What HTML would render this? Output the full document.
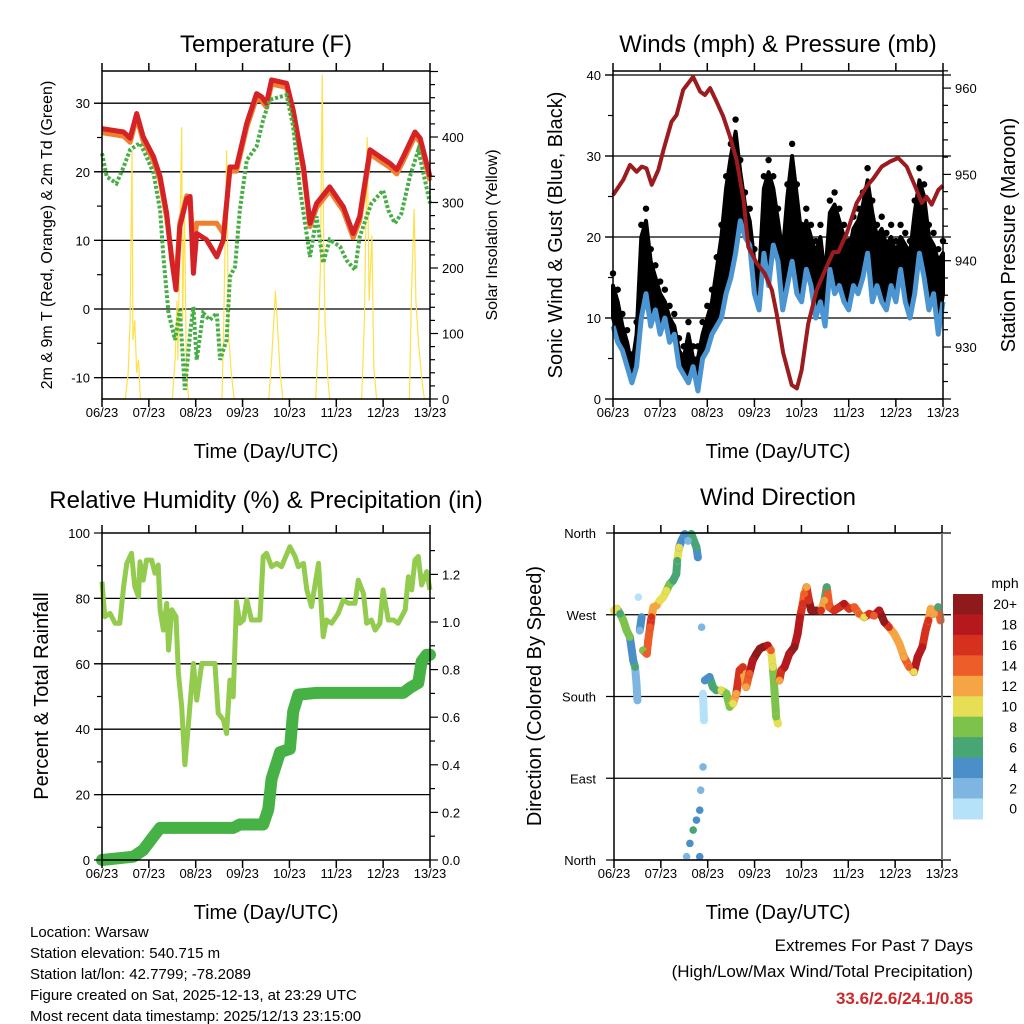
<!DOCTYPE html>
<html><head><meta charset="utf-8">
<style>
html,body{margin:0;padding:0;background:#fff;}
svg{display:block;font-family:"Liberation Sans",Arial,sans-serif;}
</style></head>
<body>
<svg id="s" width="1024" height="1024" viewBox="0 0 1024 1024" xmlns="http://www.w3.org/2000/svg">
<rect width="1024" height="1024" fill="#fff"/>
<g id="g-tl"></g>
<g id="g-tr"></g>
<g id="g-bl"></g>
<g id="g-br"></g>
<text x="266" y="52" font-size="24" text-anchor="middle">Temperature (F)</text>
<text x="778" y="52" font-size="24" text-anchor="middle">Winds (mph) &amp; Pressure (mb)</text>
<text x="266" y="508" font-size="24" text-anchor="middle">Relative Humidity (%) &amp; Precipitation (in)</text>
<text x="778" y="505" font-size="24" text-anchor="middle">Wind Direction</text>
<text x="266" y="458" font-size="20" text-anchor="middle">Time (Day/UTC)</text>
<text x="778" y="458" font-size="20" text-anchor="middle">Time (Day/UTC)</text>
<text x="266" y="919" font-size="20" text-anchor="middle">Time (Day/UTC)</text>
<text x="778" y="919" font-size="20" text-anchor="middle">Time (Day/UTC)</text>
<text transform="translate(52,235) rotate(-90)" font-size="16" text-anchor="middle">2m &amp; 9m T (Red, Orange) &amp; 2m Td (Green)</text>
<text transform="translate(497,235) rotate(-90)" font-size="16" text-anchor="middle">Solar Insolation (Yellow)</text>
<text transform="translate(562,235) rotate(-90)" font-size="20" text-anchor="middle">Sonic Wind &amp; Gust (Blue, Black)</text>
<text transform="translate(1015,235) rotate(-90)" font-size="20" text-anchor="middle">Station Pressure (Maroon)</text>
<text transform="translate(48,696) rotate(-90)" font-size="20" text-anchor="middle">Percent &amp; Total Rainfall</text>
<text transform="translate(541,696) rotate(-90)" font-size="20" text-anchor="middle">Direction (Colored By Speed)</text>
<g font-size="15">
<text x="30" y="937">Location: Warsaw</text>
<text x="30" y="958">Station elevation: 540.715 m</text>
<text x="30" y="979">Station lat/lon: 42.7799; -78.2089</text>
<text x="30" y="1000">Figure created on Sat, 2025-12-13, at 23:29 UTC</text>
<text x="30" y="1021">Most recent data timestamp: 2025/12/13 23:15:00</text>
</g>
<g font-size="17" text-anchor="end">
<text x="973" y="951">Extremes For Past 7 Days</text>
<text x="973" y="977">(High/Low/Max Wind/Total Precipitation)</text>
<text x="973" y="1004" fill="#cc2a2a" font-weight="bold">33.6/2.6/24.1/0.85</text>
</g>
</svg>
<script>
var NS="http://www.w3.org/2000/svg";
var days=["06/23","07/23","08/23","09/23","10/23","11/23","12/23","13/23"];
// Temperature
var redT=[0,.46,.6,.74,.88,1.1,1.24,1.38,1.49,1.58,1.66,1.81,1.88,1.95,2.02,2.23,2.45,2.59,2.73,2.87,3.09,3.3,3.41,3.51,3.62,3.94,4.08,4.3,4.44,4.58,4.86,5.15,5.36,5.5,5.72,5.93,6.15,6.29,6.43,6.68,6.79,7];
var redV=[26.3,25.8,24.9,28.5,25.1,22.2,19.3,13.9,7.1,2.8,12.0,16.1,16.4,5.2,11.0,10.1,7.6,10.1,20.7,20.7,27.1,31.4,30.9,30.0,33.4,32.9,29.0,20.7,12.5,15.4,17.8,14.9,11.0,13.5,23.2,22.2,21.2,20.3,22.2,25.8,24.9,19.3];
var orangeV=[25.7,25.2,24.3,27.9,24.5,21.6,18.7,13.3,7.5,4.0,12.5,16.5,16.0,9.0,12.5,12.5,12.5,11.0,20.1,20.1,26.5,30.8,30.3,29.4,32.8,32.3,28.4,20.1,12.0,14.8,17.2,14.3,10.4,12.9,22.6,21.6,20.6,19.7,21.6,25.2,24.3,18.7];
var dewT=[0,.1,.31,.46,.6,.81,.95,1.1,1.24,1.31,1.42,1.56,1.66,1.77,1.88,1.95,2.02,2.16,2.3,2.45,2.52,2.66,2.73,2.84,2.94,3.09,3.3,3.44,3.58,3.94,4.08,4.22,4.44,4.58,4.72,4.86,5.08,5.22,5.4,5.5,5.65,5.75,6,6.11,6.25,6.39,6.57,6.75,6.86,7];
var dewV=[22.7,19.3,18.3,20.7,23.2,24.2,22.2,19.8,14.4,7.6,-0.6,-4.5,-0.1,-11.8,-3.5,0.3,-7.4,-0.6,-1.6,-0.6,-7.4,-4.5,4.7,6.2,14.4,21.7,23.7,27.6,30.5,31.2,26.6,17.8,7.6,13.5,6.7,10.1,9.1,7.1,5.7,10.5,13.5,15.4,17.3,14.4,12.5,13.9,19.3,23.2,19.8,15.4];
var solarT=[0,.5,.56,.6,.64,.66,.7,.74,.78,.82,1.5,1.56,1.6,1.62,1.7,1.72,1.76,1.8,1.85,2.56,2.6,2.66,2.7,2.76,2.82,3.56,3.62,3.7,3.74,3.8,3.86,4.56,4.62,4.66,4.7,4.73,4.76,4.82,4.86,5.54,5.6,5.66,5.7,5.76,5.8,5.86,6.56,6.6,6.66,6.7,6.76,6.84,6.88,7];
var solarV=[0,0,40,120,380,90,120,40,60,0,0,60,150,60,415,120,300,40,0,0,120,380,100,40,0,0,60,165,120,40,0,0,100,200,495,250,120,30,0,0,120,400,150,250,50,0,0,150,290,150,80,20,0,0];
// Winds
var windV=[9,7,6,4,2,4,10,13,9,11,8,10,7,8,4,3,2,4,1,5,6,8,9,10,13,15,18,22,20,19,13,11,18,14,19,17,11,14,17,13,12,16,14,10,12,9,16,13,14,12,11,14,13,15,18,12,14,12,11,14,12,16,12,10,13,18,15,11,13,8,12];
var gustV=[14,12,9,7,4,8,20,22,17,15,13,12,10,9,6,5,8,5,5,8,10,12,16,20,26,30,33,28,24,22,17,15,26,28,26,22,18,25,30,25,20,22,20,18,20,15,23,24,22,20,18,21,22,24,27,23,20,21,19,20,18,20,19,18,23,27,25,20,19,17,18];
var presT=[0,.22,.36,.5,.61,.71,.82,.96,1.07,1.24,1.35,1.49,1.7,1.85,1.95,2.06,2.2,2.34,2.48,2.62,2.77,2.87,3.05,3.22,3.37,3.47,3.61,3.79,3.9,4,4.14,4.32,4.53,4.67,4.78,4.96,5.17,5.38,5.52,5.7,5.88,6.05,6.23,6.41,6.55,6.65,6.76,6.9,7];
var presV=[947.6,949.4,951.1,950.3,950.9,950.7,948.8,950.5,952.8,956.1,956.9,959.8,961.3,959.6,959.2,960.0,958.4,956.7,954.4,951.7,947.0,941.6,939.7,938.5,936.6,933.9,929.3,925.6,925.2,927.3,932.7,936.6,939.3,941.0,941.0,943.2,946.7,948.6,949.5,950.9,951.5,951.9,950.9,948.6,946.7,947.4,946.5,948.2,948.7];
// Humidity & rain
var rhT=[0,.06,.17,.28,.38,.46,.53,.63,.7,.78,.81,.88,.95,1.06,1.13,1.2,1.24,1.31,1.38,1.42,1.49,1.58,1.63,1.7,1.77,1.84,1.95,2.02,2.13,2.41,2.48,2.59,2.66,2.73,2.8,2.87,2.94,3.02,3.09,3.19,3.37,3.44,3.51,3.62,3.73,3.83,4.01,4.12,4.19,4.3,4.37,4.47,4.62,4.72,4.79,4.9,5.04,5.15,5.26,5.4,5.47,5.58,5.65,5.75,5.83,5.93,6,6.11,6.22,6.32,6.47,6.54,6.61,6.68,6.75,6.82,6.93,7];
var rhV=[85.1,74.4,75.4,72.4,72.4,83.6,90.7,93.8,83.6,80.5,91.2,85.6,91.7,91.7,87.7,90.2,76.5,70.3,78.5,64.2,76.5,74.4,57.1,46.9,29.1,40.8,60.1,48.9,60.1,60.1,44.9,42.8,38.7,55,49.9,79,72.4,73.4,79.5,73.4,73.4,92.8,93.8,89.7,90.7,89.7,95.8,92.8,89.7,90.7,82.6,77.5,90.7,68.3,73.4,72.4,75.4,79.5,78.5,78.5,85.6,81.5,72.4,73.4,70.3,72.4,82.6,73.4,73.4,72.4,76.5,86.6,82.6,91.7,92.8,84.1,88.2,82.6];
var rainT=[0,.67,.88,1.1,1.24,2.8,2.94,3.44,3.55,3.62,3.8,4.01,4.08,4.19,4.58,6.43,6.57,6.75,6.82,6.93,7];
var rainV=[0,.014,.042,.099,.135,.135,.149,.149,.213,.341,.453,.467,.624,.695,.702,.702,.723,.744,.834,.862,.862];
// Wind direction
var dirT=[0,.06,.13,.2,.27,.34,.38,.41,.45,.48,.5,.55,.59,.52,.62,.7,.73,.77,.8,.84,.91,.98,1.05,1.12,1.19,1.26,1.33,1.35,1.39,1.44,1.51,1.58,1.65,1.76,1.79,1.87,1.9,1.92,1.9,1.85,1.83,1.76,1.69,1.62,1.55,1.83,1.94,2.04,2.11,2.18,2.29,2.4,2.47,2.54,2.61,2.68,2.75,2.82,2.89,2.96,3.04,3.11,3.18,3.28,3.35,3.39,3.43,3.46,3.5,3.53,3.57,3.64,3.74,3.85,3.92,3.97,4.03,4.06,4.11,4.16,4.21,4.31,4.42,4.49,4.54,4.6,4.7,4.81,4.91,5.02,5.13,5.23,5.34,5.45,5.55,5.66,5.77,5.87,5.98,6.09,6.19,6.3,6.4,6.48,6.58,6.65,6.71,6.76,6.83,6.92,6.97];
var dirV=[274.7,276.5,271,263.7,252.7,245.4,230.7,219.7,212.4,194.1,175.8,252.7,267.3,289.3,230.7,227,241.7,256.3,267.3,278.3,280.1,285.6,289.3,296.6,303.9,307.6,314.9,329.6,344.2,351.6,358.9,351.6,358.9,344.2,333.2,256.3,183.1,153.8,102.5,76.9,54.9,43.9,33,18.3,3.7,3.7,197.7,201.4,190.4,186.8,186.8,183.1,168.5,172.1,183.1,208.7,212.4,190.4,205.1,219.7,227,232.5,234.4,236.2,230.7,212.4,183.1,157.5,150.1,197.7,208.7,212.4,227,234.4,249,267.3,282,293,300.3,285.6,274.7,274.7,274.7,285.6,300.3,278.3,274.7,278.3,282,276.5,278.3,271,267.3,271,269.2,274.7,261.8,256.3,249,238,223.4,212.4,206.9,223.4,234.4,252.7,263.7,276.5,271,278.3,263.7];
var dirS=[10,10,6,8,8,8,4,4,6,2,2,3,4,1,8,14,14,14,16,12,12,10,10,10,8,6,6,6,10,4,4,2,6,6,4,2,1,1,2,2,4,4,6,4,2,4,4,4,6,6,10,8,8,10,12,16,16,12,14,18,20,20,20,18,14,10,8,8,10,12,16,18,18,20,18,18,16,14,12,16,20,20,16,12,6,14,16,16,18,16,14,14,10,16,14,18,20,16,12,12,12,14,10,18,18,16,16,12,12,6,14];
var cbLabels=["20+","18","16","14","12","10","8","6","4","2","0"];
var cbColors=["#8e1a1c","#b5191e","#d6311f","#ec5d2a","#f6a544","#e6df55","#7dc24b","#47a674","#4a8fc7","#7fb6e1","#b5e2f8"];

function el(parent,tag,attrs){var e=document.createElementNS(NS,tag);for(var k in attrs)e.setAttribute(k,attrs[k]);parent.appendChild(e);return e;}
function txt(parent,x,y,s,size,anchor){var t=el(parent,"text",{x:x,y:y,"font-size":size,"text-anchor":anchor});t.textContent=s;return t;}
function pts(T,V,fx,fy){var a=[];for(var i=0;i<T.length;i++)a.push(fx(T[i]).toFixed(1)+","+fy(V[i]).toFixed(1));return a.join(" ");}

function xAxis(g,x0,x1,y0,y1){
  var dx=(x1-x0)/7;
  for(var i=0;i<8;i++){var x=x0+i*dx;
    var t=el(g,"line",{x1:x,x2:x,y1:y1,y2:y1+8,stroke:"#000","stroke-width":1.5});
    
    
    el(g,"line",{x1:x,x2:x,y1:y0,y2:y0-8,stroke:"#000","stroke-width":1.5});
    var l=txt(g,x,y1+18,days[i],13,"middle");
    
    
  }
}
function frame(g,x0,x1,y0,y1){
  var r=el(g,"rect",{x:x0,y:y0,width:x1-x0,height:y1-y0,fill:"none",stroke:"#000","stroke-width":1.5});
  
  
}
function yTicks(g,xEdge,dir,vals,fy,labels,major){
  for(var i=0;i<vals.length;i++){var y=fy(vals[i]);
    el(g,"line",{x1:xEdge,x2:xEdge+dir*(major[i]?8:5),y1:y,y2:y,stroke:"#000","stroke-width":1.2});
    if(labels[i]!==""){var l=txt(g,xEdge+dir*12,y+5,labels[i],13,dir<0?"end":"start");
      
      }
  }
}

// ---------- TL temperature ----------
(function(){
 var g=document.getElementById("g-tl");
 var X0=102,X1=430,Y0=71,Y1=399;
 var fx=function(d){return X0+d*(X1-X0)/7;};
 var fy=function(v){return 309-v*6.86;};
 var fs=function(v){return 399-v*0.655;};
 [30,20,10,0,-10].forEach(function(v){el(g,"line",{x1:94,x2:X1,y1:fy(v),y2:fy(v),stroke:"#000","stroke-width":1.3});});
 var sp=el(g,"polyline",{points:pts(solarT,solarV,fx,fs),fill:"none",stroke:"#ffe04a","stroke-width":1.2});
 
 
 var o=el(g,"polyline",{points:pts(redT,orangeV,fx,fy),fill:"none",stroke:"#f08030","stroke-width":5,"stroke-linejoin":"round"});
 
 
 var r=el(g,"polyline",{points:pts(redT,redV,fx,fy),fill:"none",stroke:"#d42226","stroke-width":5,"stroke-linejoin":"round"});
 
 
 var d=el(g,"polyline",{points:pts(dewT,dewV,fx,fy),fill:"none",stroke:"#47ae45","stroke-width":4,"stroke-dasharray":"3 2"});
 
 
 frame(g,X0,X1,Y0,Y1);
 xAxis(g,X0,X1,Y0,Y1);
 var lv=[],ll=[],lm=[];for(var v=-10;v<=30;v+=5){lv.push(v);ll.push(v%10===0?String(v):"");lm.push(v%10===0);}
 yTicks(g,X0,-1,lv,fy,ll,lm);
 var rv=[],rl=[],rm=[];for(var s=0;s<=500;s+=20){rv.push(s);rl.push(s%100===0&&s<500?String(s):"");rm.push(s%100===0);}
 yTicks(g,X1,1,rv,fs,rl,rm);
})();

// ---------- TR winds ----------
(function(){
 var g=document.getElementById("g-tr");
 var X0=613,X1=943,Y0=71,Y1=399;
 var fx=function(d){return X0+d*(X1-X0)/7;};
 var fy=function(v){return 399-v*8.1;};
 var fp=function(p){return 347-(p-930)*8.63;};
 [0,10,20,30,40].forEach(function(v){el(g,"line",{x1:605,x2:951,y1:fy(v),y2:fy(v),stroke:"#000","stroke-width":1.3});});
 var up=[],lo=[];
 for(var i=0;i<gustV.length;i++){up.push(fx(i*0.1).toFixed(1)+","+fy(gustV[i]).toFixed(1));lo.unshift(fx(i*0.1).toFixed(1)+","+fy(windV[i]+1).toFixed(1));}
 var band=el(g,"polygon",{points:up.concat(lo).join(" "),fill:"#000","stroke":"#000","stroke-width":4,"stroke-linejoin":"round"});
 
 
 for(var j=0;j<gustV.length;j++){
   var c=el(g,"circle",{cx:fx(j*0.1),cy:fy(gustV[j]+1.5),r:3.2,fill:"#000"});
   
   
 }
 var wT=[];for(var k=0;k<windV.length;k++)wT.push(k*0.1);
 var w=el(g,"polyline",{points:pts(wT,windV,fx,fy),fill:"none",stroke:"#4a95d2","stroke-width":5,"stroke-linejoin":"round"});
 
 
 var p=el(g,"polyline",{points:pts(presT,presV,fx,fp),fill:"none",stroke:"#9b1b1e","stroke-width":4,"stroke-linejoin":"round"});
 
 
 frame(g,X0,X1,Y0,Y1);
 xAxis(g,X0,X1,Y0,Y1);
 var lv=[],ll=[],lm=[];for(var v=0;v<=40;v+=5){lv.push(v);ll.push(v%10===0?String(v):"");lm.push(v%10===0);}
 yTicks(g,X0,-1,lv,fy,ll,lm);
 var rv=[],rl=[],rm=[];for(var s=926;s<=962;s+=2){rv.push(s);rl.push(s%10===0?String(s):"");rm.push(s%10===0);}
 yTicks(g,X1,1,rv,fp,rl,rm);
})();

// ---------- BL humidity ----------
(function(){
 var g=document.getElementById("g-bl");
 var X0=102,X1=430,Y0=533,Y1=860;
 var fx=function(d){return X0+d*(X1-X0)/7;};
 var fy=function(v){return 860-v*3.27;};
 var fr=function(v){return 860-v*238;};
 [20,40,60,80].forEach(function(v){el(g,"line",{x1:94,x2:X1,y1:fy(v),y2:fy(v),stroke:"#000","stroke-width":1.3});});
 var h=el(g,"polyline",{points:pts(rhT,rhV,fx,fy),fill:"none",stroke:"#93cb4f","stroke-width":5,"stroke-linejoin":"round"});
 
 
 var r=el(g,"polyline",{points:pts(rainT,rainV,fx,fr),fill:"none",stroke:"#46b246","stroke-width":12,"stroke-linejoin":"round","stroke-linecap":"round"});
 
 
 frame(g,X0,X1,Y0,Y1);
 xAxis(g,X0,X1,Y0,Y1);
 var lv=[],ll=[],lm=[];for(var v=0;v<=100;v+=10){lv.push(v);ll.push(v%20===0?String(v):"");lm.push(v%20===0);}
 yTicks(g,X0,-1,lv,fy,ll,lm);
 var rv=[],rl=[],rm=[];for(var s=0;s<=13;s++){rv.push(s/10);rl.push(s%2===0?(s/10).toFixed(1):"");rm.push(s%2===0);}
 yTicks(g,X1,1,rv,fr,rl,rm);
})();

// ---------- BR wind direction ----------
(function(){
 var g=document.getElementById("g-br");
 var X0=614,X1=942,Y0=533,Y1=860;
 var fx=function(d){return X0+d*(X1-X0)/7;};
 var fy=function(v){return 860-v*327/360;};
 var names=["North","East","South","West","North"];
 [0,90,180,270,360].forEach(function(v,i){
   el(g,"line",{x1:606,x2:951,y1:fy(v),y2:fy(v),stroke:"#000","stroke-width":1.3});
   var l=txt(g,596,fy(v)+5,names[i],13,"end");
   
   
 });
 function col(s){var k=Math.min(10,Math.floor(s/2));return cbColors[10-k];}
 for(var i=1;i<dirT.length;i++){
   if(Math.abs(dirV[i]-dirV[i-1])<40&&Math.abs(dirT[i]-dirT[i-1])<0.15&&dirT[i]>=dirT[i-1]){
     var sg=el(g,"line",{x1:fx(dirT[i-1]),y1:fy(dirV[i-1]),x2:fx(dirT[i]),y2:fy(dirV[i]),stroke:col(dirS[i]),"stroke-width":8,"stroke-linecap":"round"});
     
     
   }
 }
 for(var j=0;j<dirT.length;j++){
   var c=el(g,"circle",{cx:fx(dirT[j]),cy:fy(dirV[j]),r:3.8,fill:col(dirS[j])});
   
   
 }
 el(g,"rect",{x:X0,y:Y0,width:X1-X0,height:Y1-Y0,fill:"none",stroke:"#000","stroke-width":1.5});
 el(g,"line",{x1:X1,x2:X1,y1:Y0,y2:Y1,stroke:"#777","stroke-width":2});
 xAxis(g,X0,X1,Y0,Y1);
 var bh=20.45;
 var ml=txt(g,1005,588,"mph",14,"middle");
 
 
 for(var b=0;b<cbColors.length;b++){
   var rr=el(g,"rect",{x:953,y:594+b*bh,width:30,height:bh+0.5,fill:cbColors[b]});
   
   
   var lt=txt(g,1017,594+b*bh+bh/2+5,cbLabels[b],14,"end");
   
   
 }
})();
</script>
</body></html>
